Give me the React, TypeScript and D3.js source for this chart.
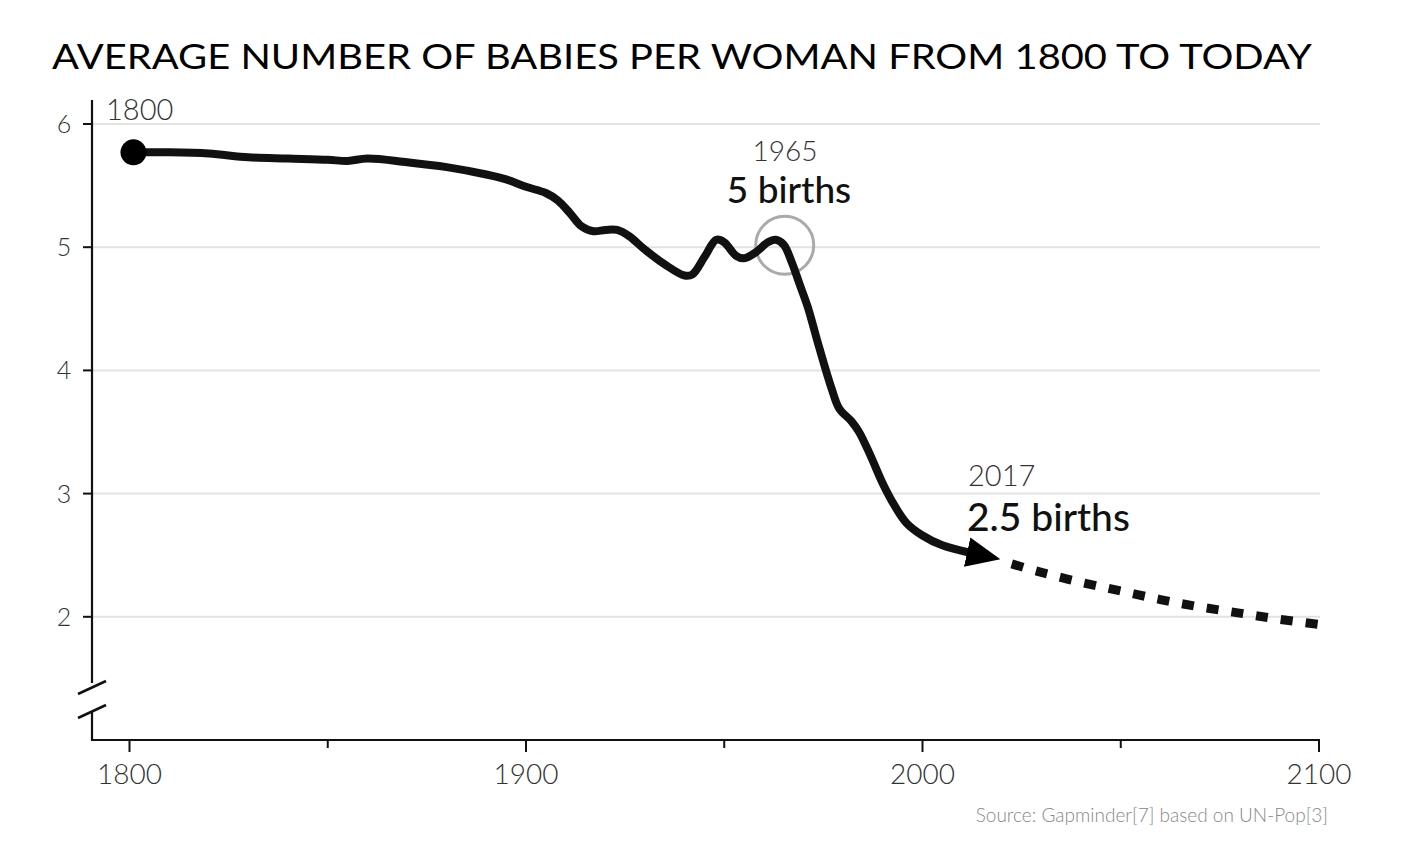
import React from 'react';
import * as d3 from 'd3';

const histYears = [1801, 1810, 1820, 1830, 1840, 1850, 1855, 1860, 1870, 1880, 1890, 1895, 1900, 1905, 1908, 1911, 1914, 1917, 1920, 1923, 1926, 1930, 1935, 1940, 1942, 1945, 1948, 1950, 1953, 1955, 1958, 1961, 1963, 1965, 1967, 1969, 1971, 1974, 1977, 1979, 1982, 1984, 1987, 1990, 1993, 1996, 2000, 2005, 2012];
const histValues = [5.77, 5.77, 5.76, 5.73, 5.72, 5.71, 5.70, 5.72, 5.69, 5.65, 5.59, 5.55, 5.49, 5.44, 5.38, 5.28, 5.17, 5.13, 5.14, 5.14, 5.09, 4.98, 4.86, 4.77, 4.78, 4.92, 5.06, 5.04, 4.93, 4.91, 4.96, 5.04, 5.06, 5.02, 4.88, 4.70, 4.52, 4.18, 3.86, 3.69, 3.59, 3.50, 3.30, 3.08, 2.90, 2.76, 2.66, 2.58, 2.52];
const projYears = [2022.5, 2030, 2040, 2050, 2060, 2070, 2080, 2090, 2102];
const projValues = [2.43, 2.36, 2.28, 2.21, 2.14, 2.08, 2.03, 1.98, 1.93];
const yTicks = [2, 3, 4, 5, 6];
const xMajorTicks = [1800, 1900, 2000, 2100];
const xMinorTicks = [1850, 1950, 2050];

const title = 'AVERAGE NUMBER OF BABIES PER WOMAN FROM 1800 TO TODAY';
const source = 'Source: Gapminder[7] based on UN-Pop[3]';

const FONT = 'Lato, "Open Sans", sans-serif';

export default function App() {
  const x = d3.scaleLinear().domain([1800, 2100]).range([129.5, 1319]);
  const y = d3.scaleLinear().domain([1, 6]).range([740, 124]);
  const axisX0 = 92;
  const axisX1 = 1320;
  const axisY = 740;

  const line = d3
    .line<number>()
    .x((_, i) => x(histYears[i]))
    .y((d) => y(d))
    .curve(d3.curveCatmullRom.alpha(0.5));
  const projLine = d3
    .line<number>()
    .x((_, i) => x(projYears[i]))
    .y((d) => y(d))
    .curve(d3.curveCatmullRom.alpha(0.5));

  return (
    <svg
      width={1416}
      height={861}
      style={{ position: 'absolute', left: 0, top: 0, background: '#fff' }}
      fontFamily={FONT}
    >
      <defs>
        <marker
          id="arrow"
          markerUnits="userSpaceOnUse"
          viewBox="0 0 34 30"
          refX={3}
          refY={15}
          markerWidth={34}
          markerHeight={30}
          orient="auto"
        >
          <path d="M0,0 L34,15 L0,30 Z" fill="#000" />
        </marker>
      </defs>
      <rect width={1416} height={861} fill="#fff" />
      <text
        x={52}
        y={69}
        fontSize={35}
        fill="#000"
        textLength={1260}
        lengthAdjust="spacingAndGlyphs"
      >
        {title}
      </text>

      {/* gridlines */}
      {yTicks.map((t) => (
        <line key={'g' + t} x1={axisX0} x2={axisX1} y1={y(t)} y2={y(t)} stroke="#e2e2e2" strokeWidth={2} />
      ))}

      {/* y axis with break */}
      <line x1={axisX0} x2={axisX0} y1={100} y2={683} stroke="#111" strokeWidth={2.2} />
      <line x1={axisX0} x2={axisX0} y1={712} y2={axisY + 1} stroke="#111" strokeWidth={2.2} />
      <line x1={78} x2={106} y1={694} y2={681} stroke="#111" strokeWidth={2.5} />
      <line x1={78} x2={106} y1={718} y2={705} stroke="#111" strokeWidth={2.5} />
      {yTicks.map((t) => (
        <g key={'y' + t}>
          <line x1={83} x2={axisX0} y1={y(t)} y2={y(t)} stroke="#111" strokeWidth={2} />
          <text x={64} y={y(t) + 9} fontSize={25} fontWeight={300} fill="#333" textAnchor="middle">
            {t}
          </text>
        </g>
      ))}

      {/* x axis */}
      <line x1={axisX0 - 1} x2={axisX1} y1={axisY} y2={axisY} stroke="#111" strokeWidth={2.2} />
      {xMajorTicks.map((t) => (
        <g key={'x' + t}>
          <line x1={x(t)} x2={x(t)} y1={axisY} y2={axisY + 12} stroke="#111" strokeWidth={2} />
          <text x={x(t)} y={784} fontSize={28} fontWeight={300} fill="#333" textAnchor="middle">
            {t}
          </text>
        </g>
      ))}
      {xMinorTicks.map((t) => (
        <line key={'m' + t} x1={x(t)} x2={x(t)} y1={axisY} y2={axisY + 8} stroke="#111" strokeWidth={2} />
      ))}

      {/* highlight circle */}
      <circle cx={x(1965) + 1} cy={y(5) - 2} r={29} fill="none" stroke="#aaa" strokeWidth={3} />

      {/* projection */}
      <path
        d={projLine(projValues) || ''}
        fill="none"
        stroke="#111"
        strokeWidth={9}
        strokeDasharray="12 13"
      />

      {/* historic line */}
      <path
        d={line(histValues) || ''}
        fill="none"
        stroke="#111"
        strokeWidth={8}
        strokeLinejoin="round"
        markerEnd="url(#arrow)"
      />
      <circle cx={x(histYears[0])} cy={y(histValues[0])} r={13} fill="#000" />

      {/* annotations */}
      <text x={106} y={120} fontSize={29} fontWeight={300} fill="#333">1800</text>
      <text x={785} y={161} fontSize={28} fontWeight={300} fill="#333" textAnchor="middle">1965</text>
      <text x={789} y={203} fontSize={37} fontWeight={500} fill="#111" textAnchor="middle">5 births</text>
      <text x={968} y={486} fontSize={29} fontWeight={300} fill="#333">2017</text>
      <text x={967} y={531} fontSize={39} fontWeight={500} fill="#111">2.5 births</text>

      <text x={1328} y={822} fontSize={19} fontWeight={300} fill="#888" textAnchor="end">
        {source}
      </text>
    </svg>
  );
}
